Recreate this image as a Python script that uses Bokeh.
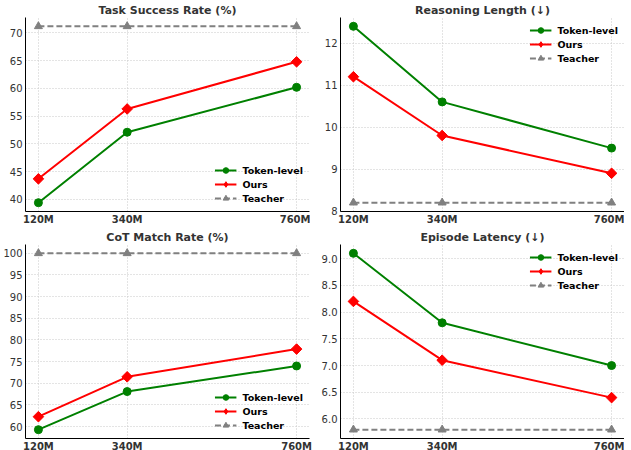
import math
from bokeh.plotting import figure
from bokeh.layouts import gridplot
from bokeh.models import FixedTicker, Range1d, PrintfTickFormatter
from bokeh.embed import file_html
from bokeh.resources import INLINE

sizes = [120, 340, 760]
size_labels = {120: "120M", 340: "340M", 760: "760M"}

titles = ["Task Success Rate (%)", "Reasoning Length (↓)", "CoT Match Rate (%)", "Episode Latency (↓)"]

token_success = [39.4, 52.1, 60.2]
ours_success = [43.7, 56.3, 64.8]
teacher_success = [71.2, 71.2, 71.2]

token_length = [12.4, 10.6, 9.5]
ours_length = [11.2, 9.8, 8.9]
teacher_length = [8.2, 8.2, 8.2]

token_cot = [59.3, 68.1, 74.0]
ours_cot = [62.3, 71.5, 77.9]
teacher_cot = [100, 100, 100]

token_latency = [9.1, 7.8, 7.0]
ours_latency = [8.2, 7.1, 6.4]
teacher_latency = [5.8, 5.8, 5.8]

yticks_success = [40, 45, 50, 55, 60, 65, 70]
yticks_length = [8, 9, 10, 11, 12]
yticks_cot = [60, 65, 70, 75, 80, 85, 90, 95, 100]
yticks_latency = [6.0, 6.5, 7.0, 7.5, 8.0, 8.5, 9.0]

panels = [
    (titles[0], token_success, ours_success, teacher_success, yticks_success, "bottom_right", None, True),
    (titles[1], token_length, ours_length, teacher_length, yticks_length, "top_right", None, False),
    (titles[2], token_cot, ours_cot, teacher_cot, yticks_cot, "bottom_right", None, True),
    (titles[3], token_latency, ours_latency, teacher_latency, yticks_latency, "top_right", "%.1f", False),
]

FONT = "DejaVu Sans"
figs = []
for title, tok, ours, teach, yt, loc, fmt, left in panels:
    allv = tok + ours + teach
    lo, hi = min(allv), max(allv)
    m = (hi - lo) * 0.05
    xm = (max(sizes) - min(sizes)) * 0.05
    p = figure(frame_width=284, frame_height=194, output_backend="svg", toolbar_location=None,
               x_range=Range1d(min(sizes) - xm, max(sizes) + xm), y_range=Range1d(lo - m, hi + m),
               min_border_left=22 if left else 27, min_border_right=4 if left else 0,
               min_border_top=0, min_border_bottom=0)
    p.title.text = title
    p.title.align = "center"
    p.title.text_font = FONT
    p.title.text_font_size = "11px"
    p.title.text_font_style = "bold"
    p.title.text_color = "#333333"
    p.title.standoff = 2
    p.outline_line_color = None
    p.background_fill_color = "white"

    for ax in (p.xaxis[0], p.yaxis[0]):
        ax.axis_line_color = "black"
        ax.axis_line_width = 1
        ax.major_tick_line_color = None
        ax.major_tick_out = 0
        ax.major_tick_in = 0
        ax.minor_tick_line_color = None
        ax.minor_tick_out = 0
        ax.major_label_text_font = FONT
        ax.major_label_text_color = "#333333"
        ax.major_label_standoff = 3
    p.xaxis[0].ticker = FixedTicker(ticks=sizes)
    p.xaxis[0].major_label_overrides = size_labels
    p.xaxis[0].major_label_text_font_style = "bold"
    p.xaxis[0].major_label_text_font_size = "10px"
    p.xaxis[0].major_label_standoff = 2
    p.yaxis[0].ticker = FixedTicker(ticks=yt)
    p.yaxis[0].major_label_text_font_size = "10px"
    if fmt:
        p.yaxis[0].formatter = PrintfTickFormatter(format=fmt)

    for g in (p.xgrid[0], p.ygrid[0]):
        g.grid_line_color = "#c8c8c8"
        g.grid_line_dash = "1 2"
        g.grid_line_width = 1

    p.line(sizes, tok, color="green", line_width=2, legend_label="Token-level")
    p.scatter(sizes, tok, marker="circle", size=8, color="green", legend_label="Token-level")
    p.line(sizes, ours, color="red", line_width=2, legend_label="Ours")
    p.scatter(sizes, ours, marker="diamond", size=9, color="red", legend_label="Ours")
    p.scatter(sizes, ours, marker="square", angle=math.pi / 4, size=7.5, color="red")
    p.line(sizes, teach, color="gray", line_width=2, line_dash="6 3", legend_label="Teacher")
    p.scatter(sizes, teach, marker="triangle", size=8, color="gray", legend_label="Teacher")

    lg = p.legend[0]
    lg.location = loc
    lg.border_line_color = None
    lg.background_fill_alpha = 0
    lg.label_text_font = FONT
    lg.label_text_font_style = "bold"
    lg.label_text_font_size = "9.5px"
    lg.label_text_color = "black"
    lg.glyph_width = 22
    lg.glyph_height = 14
    lg.label_height = 12
    lg.spacing = 0
    lg.padding = 2
    lg.margin = 6
    lg.label_standoff = 6
    figs.append(p)

grid = gridplot([[figs[0], figs[1]], [figs[2], figs[3]]], toolbar_location=None)
open("out.html", "w").write(file_html(grid, INLINE))
